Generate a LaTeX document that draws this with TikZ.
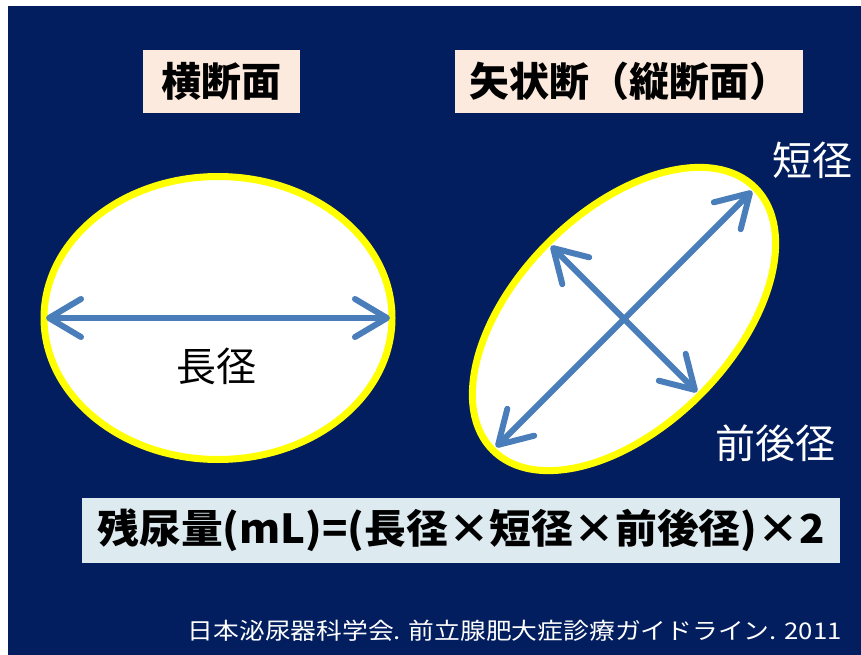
\documentclass[tikz,border=0pt]{standalone}
\usepackage{fontspec}
\usepackage{graphicx}
\setmainfont{Noto Sans CJK JP}
\usetikzlibrary{shapes.geometric,arrows.meta}
\definecolor{navy}{HTML}{021E5E}
\definecolor{peach}{HTML}{FCEADE}
\definecolor{pale}{HTML}{DDEBF1}
\definecolor{arrowblue}{HTML}{4A7EBB}
\definecolor{ringyellow}{HTML}{FFFF00}
\begin{document}
\begin{tikzpicture}[x=1pt,y=-1pt,
  ring/.style={ellipse, draw=ringyellow, fill=white, line width=7pt, inner sep=0pt, outer sep=0pt},
  dimarrow/.style={draw=arrowblue, line width=6pt, line cap=round,
    arrows={Straight Barb[length=32pt,width=38pt,line cap=round,line join=round]-Straight Barb[length=32pt,width=38pt,line cap=round,line join=round]}},
  titlebox/.style={fill=peach, inner sep=0pt, minimum height=63pt, text=black,
    font=\fontsize{40}{40}\selectfont\bfseries},
  wlabel/.style={text=white, inner sep=0pt, font=\fontsize{40}{40}\selectfont},
]
\useasboundingbox (0,0) rectangle (861,655);
\fill[white] (0,0) rectangle (861,655);
\fill[navy] (8,6) rectangle (861,655);

% title boxes
\node[titlebox, minimum width=157pt] (t1) at (221.5,81.5) {横断面};
\node[titlebox, minimum width=348pt] (t2) at (629,81.5) {矢状断（縦断面）};

% ellipses
\node[ring, minimum width=348pt, minimum height=283pt] (E1) at (218,318) {};
\node[ring, minimum width=371pt, minimum height=215pt, rotate=45] (E2) at (624,319) {};

% arrow ends
\coordinate (L1) at (46,318);
\coordinate (L2) at (390,318);
\coordinate (M1) at (496,447);
\coordinate (M2) at (752,191);
\coordinate (N1) at (551,246);
\coordinate (N2) at (697,392);

\draw[dimarrow] (L1) -- (L2);
\draw[dimarrow] (M1) -- (M2);
\draw[dimarrow] (N1) -- (N2);

% labels
\node[inner sep=0pt, text=black, font=\fontsize{40}{40}\selectfont] (long) at (216,366) {長径};
\node[wlabel] (short) at (812,160) {短径};
\node[wlabel] (ap) at (775,443) {前後径};

% formula
\node[fill=pale, minimum width=758pt, minimum height=65pt, inner sep=0pt, text=black,
  font=\fontsize{40}{40}\selectfont\bfseries] (F) at (461,530.5)
  {\resizebox{727pt}{\height}{残尿量(mL)=(長径×短径×前後径)×2}};

% citation
\node[text=white, anchor=east, inner sep=0pt, font=\fontsize{23}{23}\selectfont] (cite) at (842,631)
  {\resizebox{654pt}{\height}{日本泌尿器科学会. 前立腺肥大症診療ガイドライン. 2011}};
\end{tikzpicture}
\end{document}
